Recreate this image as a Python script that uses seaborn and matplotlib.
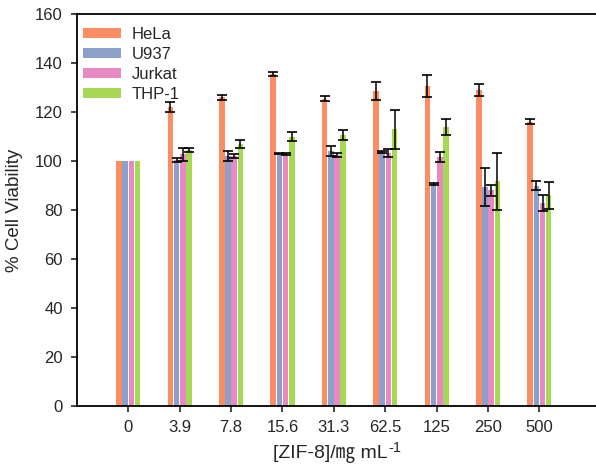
import numpy as np
import pandas as pd
import matplotlib
matplotlib.use("Agg")
import matplotlib.pyplot as plt
import seaborn as sns

# data
concentraciones = ["0", "3.9", "7.8", "15.6", "31.3", "62.5", "125", "250", "500"]
lineas = ["HeLa", "U937", "Jurkat", "THP-1"]

hela = [100, 122, 126, 135.5, 125.5, 128.5, 130.5, 129, 116]
u937 = [100, 100.5, 102, 103, 104, 103.8, 90.6, 89.4, 90]
jurkat = [100, 102.7, 102, 103, 102.5, 103.3, 101.8, 88, 83]
thp1 = [100, 104.5, 107, 110, 110.5, 113, 114, 91.7, 86]

hela_err = [0, 2, 1, 0.7, 1, 3.7, 4.5, 2.5, 1]
u937_err = [0, 0.8, 2, 0.3, 2, 0.3, 0.3, 7.7, 1.7]
jurkat_err = [0, 2.5, 0.8, 0.5, 1, 1.7, 2, 2.4, 3.3]
thp1_err = [0, 0.7, 1.5, 2, 2, 8, 3.2, 11.7, 5.6]

valores = [hela, u937, jurkat, thp1]
errores = [hela_err, u937_err, jurkat_err, thp1_err]

df = pd.DataFrame({
    "conc": np.tile(concentraciones, len(lineas)),
    "linea": np.repeat(lineas, len(concentraciones)),
    "viab": np.concatenate(valores),
})

sns.set_style("ticks")
plt.rcParams["font.family"] = ["Liberation Sans", "Noto Sans CJK JP", "DejaVu Sans"]

colores = sns.color_palette("Set2")[1:5]

fig = plt.figure(figsize=(5.96, 4.70), dpi=100)
ax = fig.add_axes([0.129, 0.136, 0.871, 0.834])

sns.barplot(data=df, x="conc", y="viab", hue="linea", order=concentraciones,
            hue_order=lineas, palette=colores, width=0.48, gap=0.1,
            errorbar=None, saturation=1, linewidth=0, ax=ax)

# barras de error en el centro de cada barra
for cont, err in zip(ax.containers, errores):
    xs = np.array([b.get_x() + b.get_width() / 2 for b in cont])
    ys = np.array([b.get_height() for b in cont])
    e = np.array(err, dtype=float)
    mask = e > 0
    ax.errorbar(xs[mask], ys[mask], yerr=e[mask], fmt="none",
                ecolor="black", elinewidth=1.1, capsize=3.8, capthick=1.2)

ax.set_ylim(0, 160)
ax.set_yticks(np.arange(0, 161, 20))
ax.set_xlim(-1.0, 9.1)
ax.set_ylabel("% Cell Viability", fontsize=13.5, labelpad=9)
ax.set_xlabel("[ZIF-8]/㎎ mL", fontsize=14, labelpad=7)
ax.tick_params(axis="both", labelsize=12, length=4, width=1.2, pad=6, direction="out")

for lado in ["top", "bottom", "left"]:
    ax.spines[lado].set_linewidth(1.3)
    ax.spines[lado].set_color("black")
ax.spines["right"].set_visible(False)

ax.legend(loc="upper left", frameon=False, fontsize=12, handlelength=2.3,
          handleheight=0.55, labelspacing=0.3, borderaxespad=0.5,
          handletextpad=0.6, bbox_to_anchor=(-0.017, 1.005))

# exponente -1 del eje x como texto aparte, justo tras la etiqueta
fig.canvas.draw()
sup = fig.text(0, 0, "-1", fontsize=10.5, va="bottom", ha="left")
r = fig.canvas.get_renderer()
w_sup = sup.get_window_extent(r).width
ax.xaxis.label.set_x(0.5 - (w_sup / 2) / ax.bbox.width)
fig.canvas.draw()
bb = ax.xaxis.label.get_window_extent(r)
W, H = fig.bbox.width, fig.bbox.height
sup.set_position(((bb.x1 + 1) / W, (bb.y1 - 10) / H))

fig.savefig("out.png", dpi=100)
